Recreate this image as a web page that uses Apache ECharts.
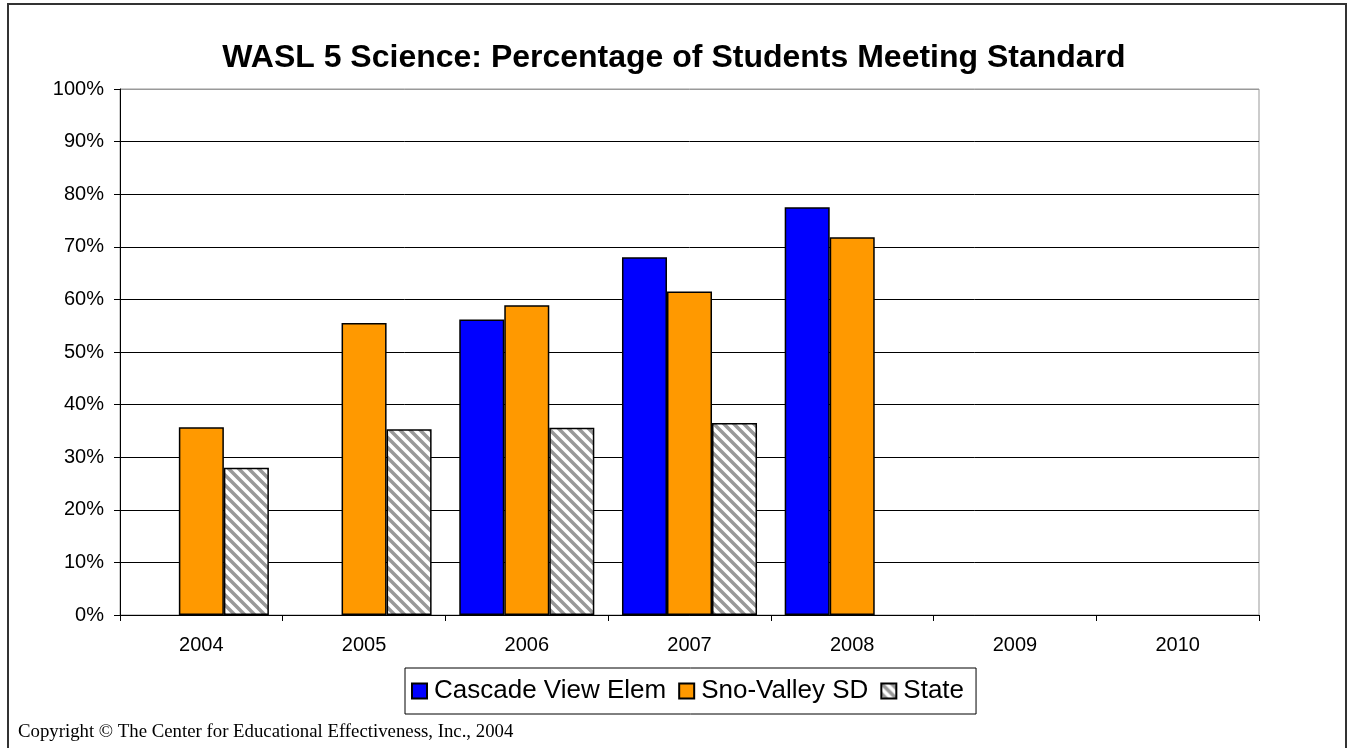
<!DOCTYPE html>
<html>
<head>
<meta charset="utf-8">
<script src="https://cdn.jsdelivr.net/npm/echarts@6/dist/echarts.min.js"></script>
<style>
html,body{margin:0;padding:0;background:#fff;}
#chart{width:1348px;height:748px;}
</style>
</head>
<body>
<div id="chart"></div>
<script>
const categories = ['2004','2005','2006','2007','2008','2009','2010'];
const cascadeView = [null, null, 56.2, 68.0, 77.5, null, null];
const snoValley = [35.7, 55.5, 58.9, 61.5, 71.8, null, null];
const stateVals = [28.0, 35.3, 35.6, 36.5, null, null, null];
const seriesNames = ['Cascade View Elem', 'Sno-Valley SD', 'State'];

function stripePattern() {
  const s = 10;
  const c = document.createElement('canvas');
  c.width = s; c.height = s;
  const g = c.getContext('2d');
  g.fillStyle = '#fff';
  g.fillRect(0, 0, s, s);
  g.strokeStyle = '#999999';
  g.lineWidth = 3.5;
  g.beginPath();
  g.moveTo(-s, 0); g.lineTo(s, 2 * s);
  g.moveTo(0, 0); g.lineTo(s, s);
  g.moveTo(0, -s); g.lineTo(2 * s, s);
  g.stroke();
  return c;
}

const chart = echarts.init(document.getElementById('chart'), null, {renderer: 'canvas'});
const font = 'Arial, "Liberation Sans", sans-serif';
const splitColors = ['#000','#000','#000','#000','#000','#000','#000','#000','#000','#000','#999'];
const barBase = {type: 'bar', barGap: '0%', barCategoryGap: '17%'};
chart.setOption({
  animation: false,
  backgroundColor: '#fff',
  title: {
    text: 'WASL 5 Science: Percentage of Students Meeting Standard',
    left: 'center', top: 37,
    textStyle: {fontFamily: font, fontSize: 32, fontWeight: 'bold', color: '#000'}
  },
  grid: {left: 120, right: 89, top: 89, bottom: 133, show: true, borderColor: '#999', borderWidth: 1},
  legend: {
    data: seriesNames,
    left: 405, top: 668,
    itemWidth: 15, itemHeight: 15, itemGap: 12,
    padding: [10, 12, 10, 6],
    borderColor: '#000', borderWidth: 1,
    textStyle: {fontFamily: font, fontSize: 26, color: '#000', padding: [0,0,0,2]},
    icon: 'rect'
  },
  xAxis: {
    type: 'category', data: categories,
    axisLine: {lineStyle: {color: '#000', width: 1}},
    axisTick: {show: true, length: 6, lineStyle: {color: '#000'}},
    axisLabel: {fontFamily: font, fontSize: 20, color: '#000', margin: 20}
  },
  yAxis: {
    type: 'value', min: 0, max: 100, interval: 10,
    axisLine: {show: true, lineStyle: {color: '#000', width: 1}},
    axisTick: {show: true, length: 6, lineStyle: {color: '#000'}},
    axisLabel: {fontFamily: font, fontSize: 20, color: '#000', margin: 16, formatter: '{value}%'},
    splitLine: {show: true, lineStyle: {color: splitColors, width: 1}}
  },
  series: [
    Object.assign({}, barBase, {name: seriesNames[0], data: cascadeView,
      itemStyle: {color: '#0000ff', borderColor: '#000', borderWidth: 1.5}}),
    Object.assign({}, barBase, {name: seriesNames[1], data: snoValley,
      itemStyle: {color: '#ff9900', borderColor: '#000', borderWidth: 1.5}}),
    Object.assign({}, barBase, {name: seriesNames[2], data: stateVals,
      itemStyle: {color: {image: stripePattern(), repeat: 'repeat'}, borderColor: '#000', borderWidth: 1.5}})
  ],
  graphic: [
    {type: 'rect', shape: {x: 8, y: 4, width: 1338, height: 800}, style: {fill: 'none', stroke: '#333', lineWidth: 2}, silent: true},
    {type: 'text', left: 18, top: 723, style: {text: 'Copyright \u00A9 The Center for Educational Effectiveness, Inc., 2004', font: '18.8px "Liberation Serif", "Times New Roman", serif', fill: '#000'}}
  ]
});
</script>
</body>
</html>
